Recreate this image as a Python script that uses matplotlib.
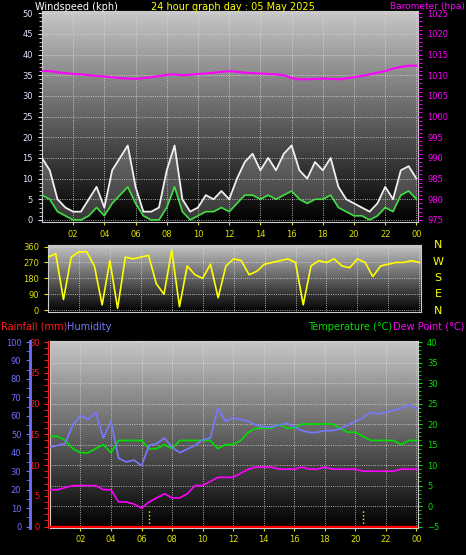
import numpy as np
import matplotlib
matplotlib.use("Agg")
import matplotlib.pyplot as plt
from matplotlib.ticker import AutoMinorLocator

hours = np.arange(0, 24.01, 0.5)
gust = [15,12,5,3,2,2,5,8,3,12,15,18,8,2,2,3,12,18,5,2,3,6,5,7,5,10,14,16,12,15,12,16,18,12,10,14,12,15,8,5,4,3,2,4,8,5,12,13,10]
avg = [6,5,2,1,0,0,1,3,1,4,6,8,4,1,0,0,3,8,2,0,1,2,2,3,2,4,6,6,5,6,5,6,7,5,4,5,5,6,3,2,1,1,0,1,3,2,6,7,5]
baro = [1011,1011,1010.7,1010.5,1010.3,1010.2,1010,1009.8,1009.7,1009.5,1009.3,1009.2,1009.1,1009.3,1009.5,1009.8,1010.1,1010.2,1010,1010.1,1010.3,1010.4,1010.6,1010.8,1011,1010.8,1010.6,1010.5,1010.4,1010.3,1010.2,1010,1009.3,1009,1009,1009.1,1009.2,1009.1,1009,1009.2,1009.5,1009.8,1010.2,1010.6,1011,1011.6,1012,1012.3,1012.3]
wdir = [300,320,60,300,330,330,250,30,280,10,300,290,300,310,150,90,340,20,250,200,180,260,70,250,290,280,200,220,260,270,280,290,270,30,250,280,270,290,250,240,290,270,190,250,260,270,270,280,270]
humidity = [43,44,45,55,60,58,62,48,57,37,35,36,33,44,45,48,43,40,42,44,47,48,64,57,59,58,57,55,54,54,55,56,54,52,51,51,52,52,53,55,57,59,62,61,62,63,64,66,64]
temperature = [17,17,16,14,13,13,14,15,13,16,16,16,16,14,14,15,14,16,16,16,16,16,14,15,15,16,18,19,19,19,20,19,19,20,20,20,20,20,19,18,18,17,16,16,16,16,15,16,16]
dewpoint = [4,4,4.5,5,5,5,5,4,4,1,1,0.5,-0.5,1,2,3,2,2,3,5,5,6,7,7,7,8,9,9.5,9.5,9.5,9,9,9,9.5,9,9,9.5,9,9,9,9,8.5,8.5,8.5,8.5,8.5,9,9,9]
rainfall = [0]*49
rain_marks = [6.5, 20.5]
xt = list(range(2, 25, 2))
xtl = ["%02d" % (h % 24) for h in xt]

fig = plt.figure(figsize=(4.66, 5.55), dpi=100, facecolor="black")
grad = np.linspace(0.78, 0.0, 256).reshape(-1, 1)

def style(ax, ylim, yticks, ycolor):
    ax.set_facecolor("black")
    ax.imshow(grad, cmap="gray", vmin=0, vmax=1, aspect="auto",
              extent=[0, 1, 0, 1], transform=ax.transAxes, zorder=0)
    ax.set_xlim(0, 24.1)
    ax.set_ylim(*ylim)
    ax.set_xticks(xt)
    ax.set_xticklabels(xtl, color="#e0e000", fontsize=6)
    ax.set_yticks(yticks)
    ax.yaxis.set_minor_locator(AutoMinorLocator(5))
    ax.tick_params(axis="y", colors=ycolor, labelsize=6, length=3)
    ax.tick_params(axis="y", which="minor", colors=ycolor, length=2)
    ax.tick_params(axis="x", colors="#e0e000", length=2)
    ax.grid(True, color="#dddddd", linestyle=":", linewidth=0.6)
    for s in ax.spines.values():
        s.set_color("#cccccc")

# top
ax1 = fig.add_axes([0.090, 0.600, 0.807, 0.380])
style(ax1, (-0.5, 50.5), range(0, 51, 5), "#e0e0ff")
ax1.plot(hours, gust, color="#f0f0f0", lw=1.3, zorder=3)
ax1.fill_between(hours, avg, gust, color="#dddddd", alpha=0.25, lw=0, zorder=2)
ax1.plot(hours, avg, color="#40e040", lw=1.2, zorder=5)
ax1b = ax1.twinx()
ax1b.set_ylim(974.5, 1025.5)
ax1b.set_yticks(range(975, 1026, 5))
ax1b.yaxis.set_minor_locator(AutoMinorLocator(5))
ax1b.tick_params(axis="y", which="both", colors="#ff00ff", labelsize=6, length=3)
ax1b.plot(hours, baro, color="#ff00ff", lw=1.5)
for s in ax1b.spines.values():
    s.set_visible(False)
fig.text(0.075, 0.988, "Windspeed (kph)", color="white", fontsize=7, va="center")
fig.text(0.50, 0.988, "24 hour graph day : 05 May 2025", color="#ffff00", fontsize=7, va="center", ha="center")
fig.text(0.997, 0.988, "Barometer (hpa)", color="#ff00ff", fontsize=6.5, va="center", ha="right")

# middle
ax2 = fig.add_axes([0.103, 0.438, 0.800, 0.121])
style(ax2, (-10, 370), [0, 90, 180, 270, 360], "#e0e000")
ax2.yaxis.set_minor_locator(AutoMinorLocator(1))
ax2.set_xticklabels([])
ax2.tick_params(axis="x", length=0)
ax2.plot(hours, wdir, color="#ffff00", lw=1.2, zorder=3)
for i, l in enumerate("NWSEN"):
    fig.text(0.94, 0.558 - i * 0.0295, l, color="#ffff00", fontsize=8, ha="center", va="center")

# bottom
ax3 = fig.add_axes([0.107, 0.049, 0.790, 0.337])
style(ax3, (-5.3, 40.3), range(-5, 41, 5), "#00e000")
ax3.plot(hours, temperature, color="#00e000", lw=1.2, zorder=4)
ax3.plot(hours, dewpoint, color="#ff00ff", lw=1.2, zorder=4)
axh = ax3.twinx()
axh.set_ylim(-0.67, 100.67)
axh.yaxis.tick_left()
axh.spines["left"].set_position(("outward", 14))
axh.spines["left"].set_color("#7070ff")
axh.spines["left"].set_linewidth(2)
axh.set_yticks(range(0, 101, 10))
axh.yaxis.set_minor_locator(AutoMinorLocator(2))
axh.tick_params(axis="y", which="both", colors="#7070ff", labelsize=6, length=3)
axh.plot(hours, humidity, color="#7878ff", lw=1.2, zorder=3)
for h in rain_marks:
    axh.plot([h, h], [0, 9], color="#ffff00", lw=1, linestyle=":")
for k in ["right", "top", "bottom"]:
    axh.spines[k].set_visible(False)
axr = ax3.twinx()
axr.set_ylim(-0.2, 30.2)
axr.yaxis.tick_left()
axr.spines["left"].set_position(("outward", 1))
axr.spines["left"].set_color("#ff2020")
axr.set_yticks(range(0, 31, 5))
axr.yaxis.set_minor_locator(AutoMinorLocator(5))
axr.tick_params(axis="y", which="both", colors="#ff2020", labelcolor="#ff2020", labelsize=6, length=3, left=True, labelleft=True)
axr.plot(hours, rainfall, color="#ff0000", lw=2.5, zorder=5)
for k in ["right", "top", "bottom"]:
    axr.spines[k].set_visible(False)
ax3.yaxis.tick_right()
ax3.tick_params(axis="y", which="both", colors="#00e000", labelsize=6)
fig.text(0.003, 0.411, "Rainfall (mm)", color="#ff2020", fontsize=7, va="center")
fig.text(0.143, 0.411, "Humidity", color="#7878ff", fontsize=7, va="center")
fig.text(0.842, 0.411, "Temperature (°C)", color="#00e000", fontsize=7, va="center", ha="right")
fig.text(0.997, 0.411, "Dew Point (°C)", color="#ff00ff", fontsize=7, va="center", ha="right")

fig.savefig("out.png", dpi=100, facecolor="black")
